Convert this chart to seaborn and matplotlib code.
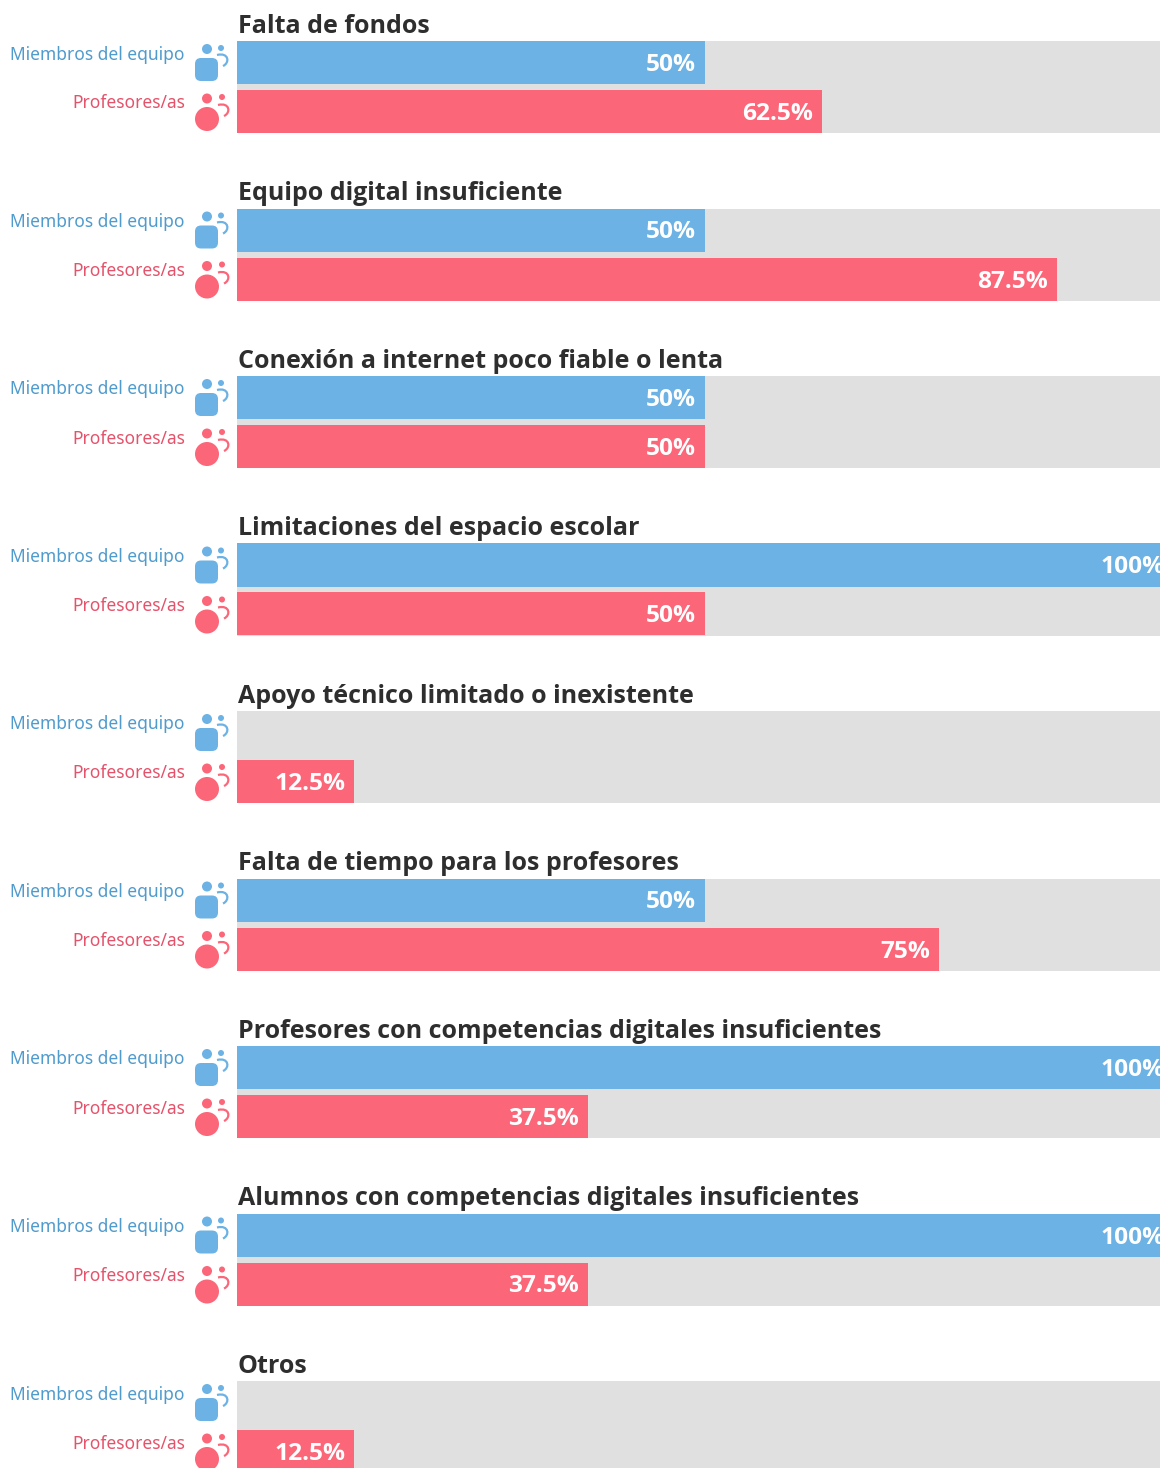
import matplotlib
matplotlib.use("Agg")
import matplotlib.pyplot as plt
import seaborn as sns
import pandas as pd
from matplotlib.patches import Circle, FancyBboxPatch, PathPatch
from matplotlib.path import Path
from matplotlib.transforms import Affine2D

categories = [
    "Falta de fondos",
    "Equipo digital insuficiente",
    "Conexión a internet poco fiable o lenta",
    "Limitaciones del espacio escolar",
    "Apoyo técnico limitado o inexistente",
    "Falta de tiempo para los profesores",
    "Profesores con competencias digitales insuficientes",
    "Alumnos con competencias digitales insuficientes",
    "Otros",
]
team_values = [50, 50, 50, 100, 0, 50, 100, 100, 0]
teacher_values = [62.5, 87.5, 50, 50, 12.5, 75, 37.5, 37.5, 12.5]
roles = ["Miembros del equipo", "Profesores/as"]

BLUE, RED = "#6cb2e4", "#fc6679"
BLUE_TXT, RED_TXT = "#4f9bcd", "#e4536b"
GREY, DARK = "#e0e0e0", "#2e2e2e"

W, H = 1160, 1468
sns.set_theme(style="white")
plt.rcParams["font.family"] = ["Noto Sans", "DejaVu Sans"]
BOLD = ["Open Sans", "DejaVu Sans"]
fig = plt.figure(figsize=(W / 100, H / 100), dpi=100, facecolor="white")
px = Affine2D().scale(1, -1).translate(0, H)
PT = 0.72

X0, X100 = 237, 1173.6
TOP0, STEP, BAR, GAP = 41, 167.5, 43, 6


def team_icon(dy):
    fig.add_artist(Circle((207, 49 + dy), 5, transform=px, fc=BLUE, ec="none"))
    fig.add_artist(Circle((221, 48 + dy), 3, transform=px, fc=BLUE, ec="none"))
    fig.add_artist(FancyBboxPatch((200, 63 + dy), 13, 13, boxstyle="round,pad=5,rounding_size=6",
                                  transform=px, fc=BLUE, ec="none"))
    arc = Path([(217, 55 + dy), (229, 52 + dy), (230, 63 + dy), (223, 66 + dy)],
               [Path.MOVETO, Path.CURVE4, Path.CURVE4, Path.CURVE4])
    fig.add_artist(PathPatch(arc, transform=px, fc="none", ec=BLUE, lw=1.6))


def teacher_icon(dy):
    fig.add_artist(Circle((207, 98.5 + dy), 5, transform=px, fc=RED, ec="none"))
    fig.add_artist(Circle((222, 97 + dy), 3, transform=px, fc=RED, ec="none"))
    fig.add_artist(Circle((207, 119 + dy), 12, transform=px, fc=RED, ec="none"))
    arc = Path([(218, 105 + dy), (230, 102 + dy), (231, 113 + dy), (224, 116 + dy)],
               [Path.MOVETO, Path.CURVE4, Path.CURVE4, Path.CURVE4])
    fig.add_artist(PathPatch(arc, transform=px, fc="none", ec=RED, lw=1.6))


for i, cat in enumerate(categories):
    top = TOP0 + i * STEP
    height = 2 * BAR + GAP
    ax = fig.add_axes([X0 / W, 1 - (top + height) / H, (X100 - X0) / W, height / H])
    ax.set_facecolor(GREY)
    df = pd.DataFrame({"role": roles, "value": [team_values[i], teacher_values[i]]})
    sns.barplot(data=df, y="role", x="value", hue="role", order=roles, hue_order=roles,
                palette=[BLUE, RED], saturation=1, width=BAR / (BAR + GAP), dodge=False,
                legend=False, linewidth=0, edgecolor="none", ax=ax)
    half = BAR / (BAR + GAP) / 2
    ax.set_xlim(0, 100)
    ax.set_ylim(1 + half, -half)
    ax.set_xlabel("")
    ax.set_ylabel("")
    ax.set_xticks([])
    ax.set_yticks([])
    sns.despine(ax=ax, left=True, bottom=True)

    ax.annotate(cat, xy=(0, 1), xycoords="axes fraction", xytext=(0.5 * PT, 8.3 * PT),
                textcoords="offset points", ha="left", va="baseline",
                fontsize=25 * PT, fontweight="bold", family=BOLD, color=DARK,
                annotation_clip=False)

    for j, (role, val, col) in enumerate(zip(roles, df["value"], [BLUE_TXT, RED_TXT])):
        ax.annotate(role, xy=(0, j), xycoords=("axes fraction", "data"),
                    xytext=(-52 * PT, 8 * PT), textcoords="offset points",
                    ha="right", va="center", fontsize=17.4 * PT, color=col,
                    annotation_clip=False)
        if val > 0:
            ax.annotate(f"{val:g}%", xy=(val, j), xycoords="data",
                        xytext=(-9 * PT, 0.5 * PT), textcoords="offset points",
                        ha="right", va="center_baseline", fontsize=24.5 * PT,
                        fontweight="bold", family=BOLD, color="white", annotation_clip=False)

    team_icon(i * STEP)
    teacher_icon(i * STEP)

fig.savefig("out.png", dpi=100, facecolor="white")
